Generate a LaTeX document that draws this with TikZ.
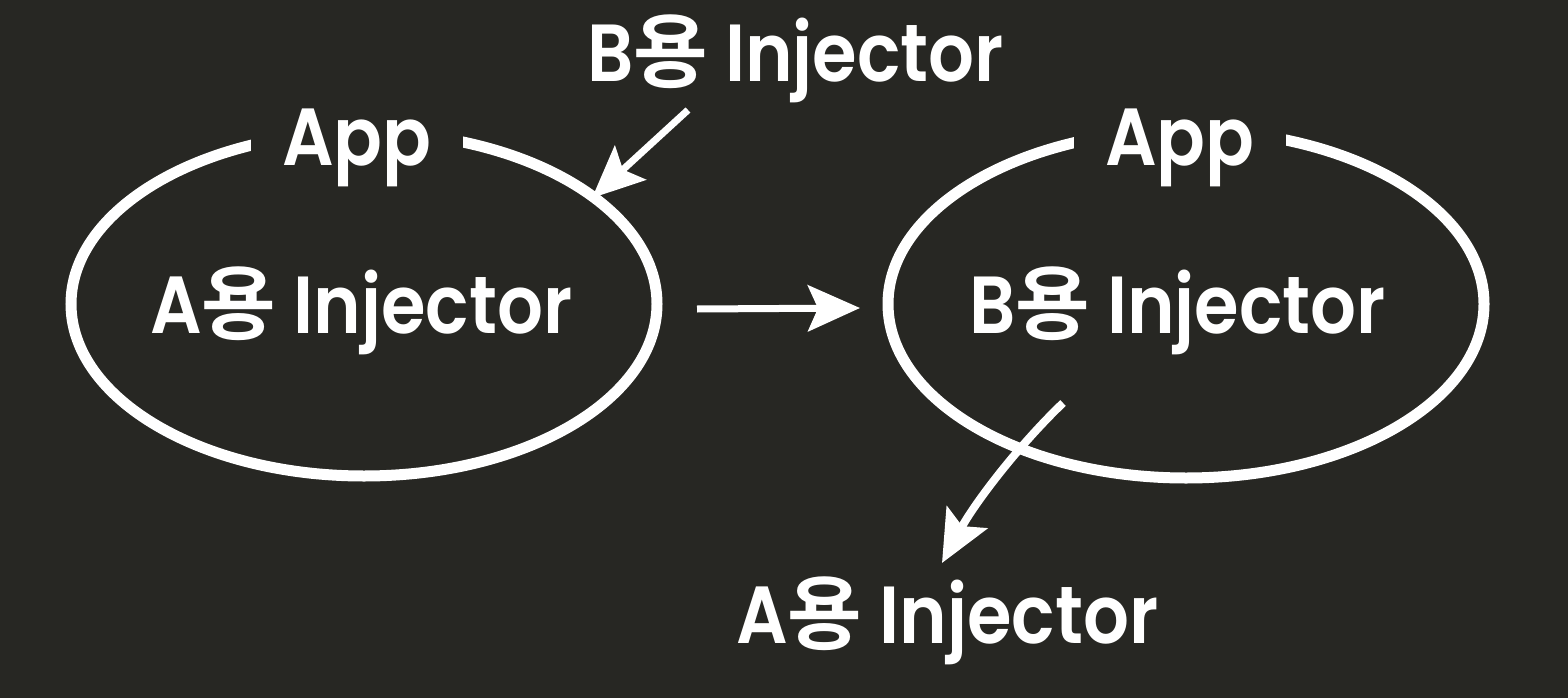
\documentclass[tikz,border=0pt]{standalone}
\usepackage{fontspec}
\setmainfont{Poppins SemiBold}[FakeStretch=0.89]
\newfontfamily\kr{Noto Sans CJK KR Bold}
\usetikzlibrary{arrows.meta,shapes.geometric}
\definecolor{bg}{RGB}{39,39,35}
\begin{document}
\begin{tikzpicture}[x=1pt,y=-1pt,
  lbl/.style={text=white,font=\fontsize{81}{90}\selectfont,inner sep=0pt,anchor=base west},
  ell/.style={draw=white,line width=11pt,ellipse,inner sep=0pt},
  conn/.style={draw=white,line width=7pt,-{Stealth[length=52pt,width=46pt,inset=10pt]}},
  gap/.style={fill=bg,inner xsep=31pt,inner ysep=6pt}]
\fill[bg] (0,0) rectangle (1568,698);
\useasboundingbox (0,0) rectangle (1568,698);
% ellipses
\node[ell,minimum width=586pt,minimum height=344pt] (e1) at (364,304) {};
\node[ell,minimum width=596pt,minimum height=348pt] (e2) at (1186,304) {};
% App labels breaking the ellipses
\node[lbl,gap] (app1) at (251,165) {App};
\node[lbl,gap] (app2) at (1074,165) {App};
% inner labels
\node[lbl] (ia) at (150,333) {A{\kr 용} Injector};
\node[lbl] (ib) at (969,333) {B{\kr 용} Injector};
% outer labels
\node[lbl] (tb) at (587,82) {B{\kr 용} Injector};
\node[lbl] (ba) at (736,643) {A{\kr 용} Injector};
% connector ends
\coordinate (s1) at (688,110);
\coordinate (t1) at (592,198);
\coordinate (s2) at (697,309);
\coordinate (t2) at (860,308);
\coordinate (s3) at (1063,403);
\coordinate (t3) at (942,563);
\draw[conn] (s1) -- (t1);
\draw[conn] (s2) -- (t2);
\draw[conn,line width=8pt] (s3) .. controls (1020,444) and (976,501) .. (t3);
\end{tikzpicture}
\end{document}
